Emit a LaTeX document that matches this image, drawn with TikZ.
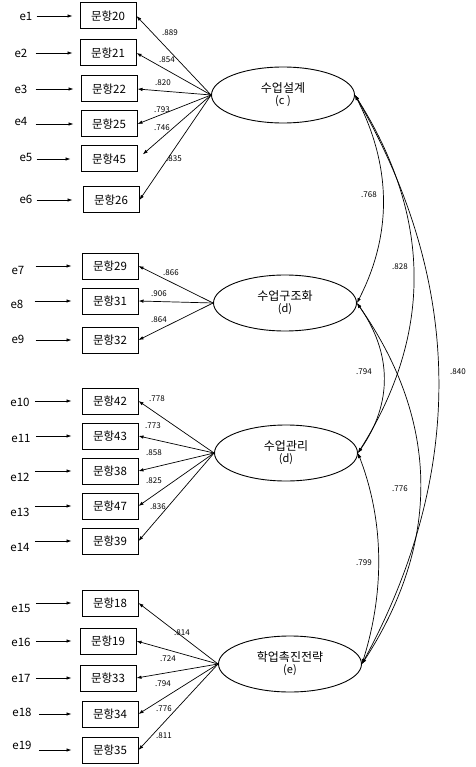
\documentclass[tikz,border=0pt]{standalone}
\usepackage{fontspec}
\setmainfont{Noto Sans CJK KR}
\usetikzlibrary{arrows.meta,shapes.geometric}

\begin{document}
\begin{tikzpicture}[x=1pt, y=-1pt,
    itembox/.style={draw, line width=1pt, minimum width=56pt, minimum height=26pt, inner sep=0pt, font=\fontsize{11.5}{13}\selectfont},
    factor/.style={draw, ellipse, line width=0.9pt, minimum width=143pt, minimum height=56pt, inner sep=0pt, align=center, font=\fontsize{12}{14}\selectfont},
    errlabel/.style={inner sep=1pt, font=\fontsize{11.5}{13}\selectfont},
    coef/.style={inner sep=0pt, font=\fontsize{8}{9}\selectfont},
    load/.style={-{Latex[length=5pt,width=3.5pt]}, line width=0.7pt},
    cov/.style={{Latex[length=5pt,width=3.5pt]}-{Latex[length=5pt,width=3.5pt]}, line width=0.7pt}]
    \useasboundingbox (0,0) rectangle (475,767);

    % latent factors
    \node (f1) [factor] at (283,95) {수업설계\\[-2pt]{\fontsize{11}{12}\selectfont (c )}};
    \node (f2) [factor] at (285,303) {수업구조화\\[-2pt]{\fontsize{11}{12}\selectfont (d)}};
    \node (f3) [factor] at (286,453) {수업관리\\[-2pt]{\fontsize{11}{12}\selectfont (d)}};
    \node (f4) [factor] at (290,664) {학업촉진전략\\[-2pt]{\fontsize{11}{12}\selectfont (e)}};

    % items
    \node (i20) [itembox] at (108,16) {문항20};
    \node (i21) [itembox] at (108,53) {문항21};
    \node (i22) [itembox] at (109,89) {문항22};
    \node (i25) [itembox] at (109,124) {문항25};
    \node (i45) [itembox] at (109,159) {문항45};
    \node (i26) [itembox] at (111,200) {문항26};

    \node (i29) [itembox] at (110,266) {문항29};
    \node (i31) [itembox] at (110,301) {문항31};
    \node (i32) [itembox] at (110,340) {문항32};

    \node (i42) [itembox] at (110,401) {문항42};
    \node (i43) [itembox] at (110,436) {문항43};
    \node (i38) [itembox] at (110,471) {문항38};
    \node (i47) [itembox] at (110,506) {문항47};
    \node (i39) [itembox] at (110,541) {문항39};

    \node (i18) [itembox] at (110,603) {문항18};
    \node (i19) [itembox] at (108,641) {문항19};
    \node (i33) [itembox] at (108,678) {문항33};
    \node (i34) [itembox] at (110,714) {문항34};
    \node (i35) [itembox] at (110,750) {문항35};

    % error terms
    \node (e1) [errlabel] at (26,16) {e1};
    \node (e2) [errlabel] at (21,53) {e2};
    \node (e3) [errlabel] at (21,89) {e3};
    \node (e4) [errlabel] at (21,121) {e4};
    \node (e5) [errlabel] at (26,157) {e5};
    \node (e6) [errlabel] at (26,199) {e6};
    \node (e7) [errlabel] at (18,270) {e7};
    \node (e8) [errlabel] at (17,304) {e8};
    \node (e9) [errlabel] at (18,339) {e9};
    \node (e10) [errlabel] at (20,402) {e10};
    \node (e11) [errlabel] at (21,438) {e11};
    \node (e12) [errlabel] at (20,477) {e12};
    \node (e13) [errlabel] at (20,512) {e13};
    \node (e14) [errlabel] at (20,547) {e14};
    \node (e15) [errlabel] at (21,608) {e15};
    \node (e16) [errlabel] at (21,642) {e16};
    \node (e17) [errlabel] at (21,678) {e17};
    \node (e18) [errlabel] at (22,712) {e18};
    \node (e19) [errlabel] at (22,745) {e19};

    \draw[load, shorten <=3pt, shorten >=7pt] (i20.west -| e1.east) -- (i20.west);
    \draw[load, shorten <=7pt, shorten >=7pt] (i21.west -| e2.east) -- (i21.west);
    \draw[load, shorten <=7pt, shorten >=7pt] (i22.west -| e3.east) -- (i22.west);
    \draw[load, shorten <=7pt, shorten >=7pt] (i25.west -| e4.east) -- (i25.west);
    \draw[load, shorten <=3pt, shorten >=10pt] (i45.west -| e5.east) -- (i45.west);
    \draw[load, shorten <=3pt, shorten >=10pt] (i26.west -| e6.east) -- (i26.west);
    \draw[load, shorten <=10pt, shorten >=10pt] (i29.west -| e7.east) -- (i29.west);
    \draw[load, shorten <=10pt, shorten >=10pt] (i31.west -| e8.east) -- (i31.west);
    \draw[load, shorten <=10pt, shorten >=10pt] (i32.west -| e9.east) -- (i32.west);
    \draw[load, shorten <=4pt, shorten >=10pt] (i42.west -| e10.east) -- (i42.west);
    \draw[load, shorten <=4pt, shorten >=10pt] (i43.west -| e11.east) -- (i43.west);
    \draw[load, shorten <=4pt, shorten >=10pt] (i38.west -| e12.east) -- (i38.west);
    \draw[load, shorten <=4pt, shorten >=10pt] (i47.west -| e13.east) -- (i47.west);
    \draw[load, shorten <=4pt, shorten >=10pt] (i39.west -| e14.east) -- (i39.west);
    \draw[load, shorten <=4pt, shorten >=10pt] (i18.west -| e15.east) -- (i18.west);
    \draw[load, shorten <=4pt, shorten >=8pt] (i19.west -| e16.east) -- (i19.west);
    \draw[load, shorten <=4pt, shorten >=8pt] (i33.west -| e17.east) -- (i33.west);
    \draw[load, shorten <=6pt, shorten >=10pt] (i34.west -| e18.east) -- (i34.west);
    \draw[load, shorten <=6pt, shorten >=10pt] (i35.west -| e19.east) -- (i35.west);

    % factor loadings
    \draw[load] (f1.west) -- (i20.east);
    \draw[load] (f1.west) -- (i21.east);
    \draw[load] (f1.west) -- (i22.east);
    \draw[load] (f1.west) -- (i25.east);
    \draw[load, shorten >=7pt] (f1.west) -- (i45.east);
    \draw[load] (f1.west) -- (i26.east);
    \node (c20) [coef] at (170,33) {.889};
    \node (c21) [coef] at (167,60) {.854};
    \node (c22) [coef] at (163,83) {.820};
    \node (c25) [coef] at (162,110) {.793};
    \node (c45) [coef] at (162,128) {.746};
    \node (c26) [coef] at (174,159) {.835};

    \draw[load] (f2.west) -- (i29.east);
    \draw[load] (f2.west) -- (i31.east);
    \draw[load] (f2.west) -- (i32.east);
    \node (c29) [coef] at (171,273) {.866};
    \node (c31) [coef] at (159,294) {.906};
    \node (c32) [coef] at (159,320) {.864};

    \draw[load] (f3.west) -- (i42.east);
    \draw[load] (f3.west) -- (i43.east);
    \draw[load] (f3.west) -- (i38.east);
    \draw[load] (f3.west) -- (i47.east);
    \draw[load] (f3.west) -- (i39.east);
    \node (c42) [coef] at (157,399) {.778};
    \node (c43) [coef] at (153,426) {.773};
    \node (c38) [coef] at (154,453) {.858};
    \node (c47) [coef] at (154,481) {.825};
    \node (c39) [coef] at (158,507) {.836};

    \draw[load] (f4.west) -- (i18.east);
    \draw[load] (f4.west) -- (i19.east);
    \draw[load] (f4.west) -- (i33.east);
    \draw[load] (f4.west) -- (i34.east);
    \draw[load] (f4.west) -- (i35.east);
    \node (c18) [coef] at (182,633) {.814};
    \node (c19) [coef] at (168,659) {.724};
    \node (c33) [coef] at (163,684) {.794};
    \node (c34) [coef] at (164,709) {.776};
    \node (c35) [coef] at (164,736) {.811};

    % correlations
    \draw[cov] (f1.east) .. controls +(36,70) and +(36,-70) .. (f2.east);
    \draw[cov] (f1.east) .. controls +(76,120) and +(76,-120) .. (f3.east);
    \draw[cov] (f1.east) .. controls +(110,190) and +(103,-190) .. (f4.east);
    \draw[cov] (f2.east) .. controls +(35,50) and +(35,-50) .. (f3.east);
    \draw[cov] (f2.east) .. controls +(84,120) and +(78,-120) .. (f4.east);
    \draw[cov] (f3.east) .. controls +(27,70) and +(22,-70) .. (f4.east);
    \node (r12) [coef] at (369,195) {.768};
    \node (r13) [coef] at (400,267) {.828};
    \node (r14) [coef] at (458,372) {.840};
    \node (r23) [coef] at (364,372) {.794};
    \node (r24) [coef] at (400,489) {.776};
    \node (r34) [coef] at (364,563) {.799};
\end{tikzpicture}
\end{document}
